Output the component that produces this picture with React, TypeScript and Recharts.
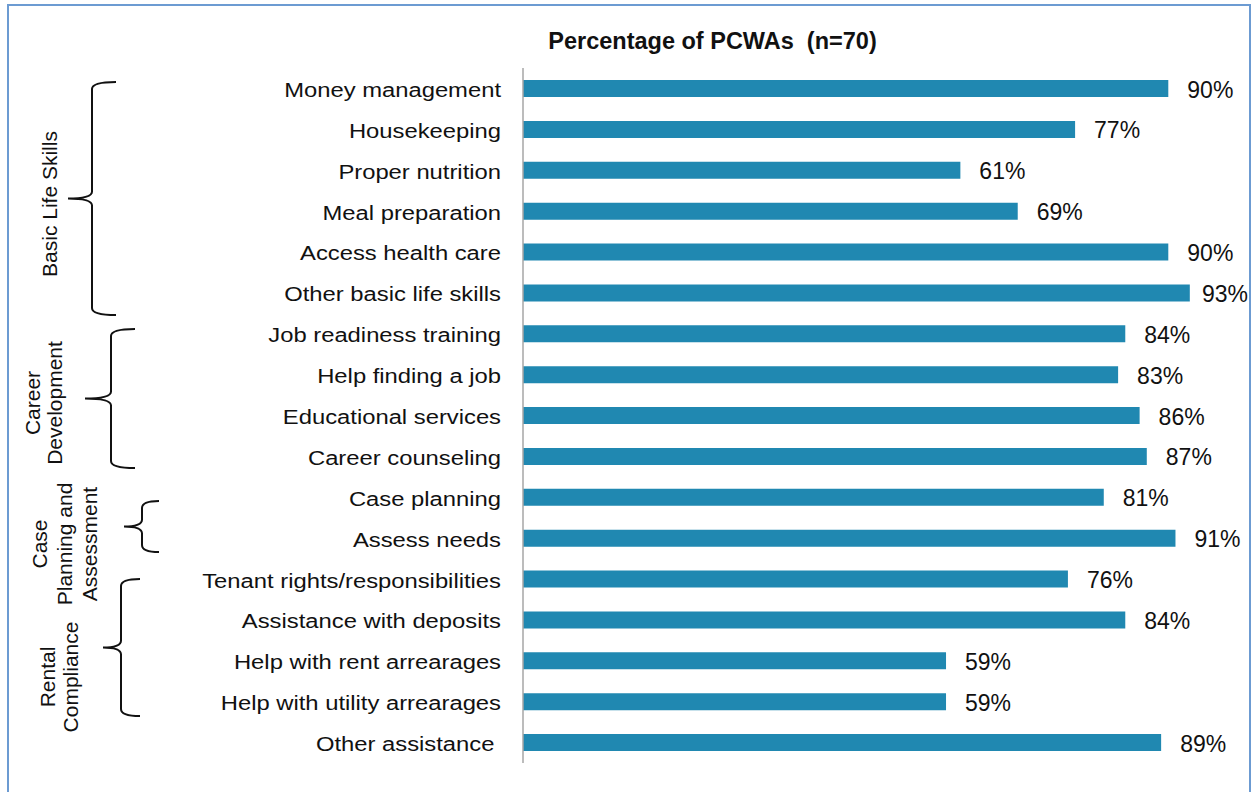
import { BarChart, Bar, XAxis, YAxis, LabelList } from 'recharts';

const categories = [
    'Money management',
    'Housekeeping',
    'Proper nutrition',
    'Meal preparation',
    'Access health care',
    'Other basic life skills',
    'Job readiness training',
    'Help finding a job',
    'Educational services',
    'Career counseling',
    'Case planning',
    'Assess needs',
    'Tenant rights/responsibilities',
    'Assistance with deposits',
    'Help with rent arrearages',
    'Help with utility arrearages',
    'Other assistance ',
];

const percentages = [90, 77, 61, 69, 90, 93, 84, 83, 86, 87, 81, 91, 76, 84, 59, 59, 89];

const groupNames = [
    ['Basic Life Skills'],
    ['Career', 'Development'],
    ['Case', 'Planning and', 'Assessment'],
    ['Rental', 'Compliance'],
];

const data = categories.map((name, i) => ({ name, value: percentages[i] }));

// brace + rotated group label placement (px)
const braces = [
    { top: 82, bottom: 315, spine: 92, arm: 116, tip: 68, cy: 204, lines: [56.5] },
    { top: 329, bottom: 468, spine: 111, arm: 135, tip: 85, cy: 403, lines: [39.5, 62] },
    { top: 501, bottom: 552, spine: 142, arm: 159, tip: 124, cy: 544, lines: [46.5, 71.5, 96.5] },
    { top: 579, bottom: 716, spine: 121, arm: 140, tip: 103, cy: 677, lines: [55, 78] },
];

const FONT = '"Liberation Sans", Arial, sans-serif';
const BAR = '#2088b1';
const LABEL_MAX_X = 1202; // labels that would run past the frame get pulled in

function bracePath(b: { top: number; bottom: number; spine: number; arm: number; tip: number }) {
    const mid = (b.top + b.bottom) / 2;
    const r = 7;
    return [
        `M ${b.arm} ${b.top}`,
        `Q ${b.spine} ${b.top} ${b.spine} ${b.top + r}`,
        `L ${b.spine} ${mid - r}`,
        `Q ${b.spine} ${mid} ${b.tip} ${mid}`,
        `Q ${b.spine} ${mid} ${b.spine} ${mid + r}`,
        `L ${b.spine} ${b.bottom - r}`,
        `Q ${b.spine} ${b.bottom} ${b.arm} ${b.bottom}`,
    ].join(' ');
}

function CategoryTick(props: any) {
    const { x, y, payload } = props;
    return (
        <g transform={`translate(${x},${y}) scale(1.19,1)`}>
            <text
                x={0}
                y={8.5}
                textAnchor="end"
                fontSize={20}
                fontFamily={FONT}
                fill="#111"
                style={{ whiteSpace: 'pre' }}
            >
                {payload.value}
            </text>
        </g>
    );
}

function ValueLabel(props: any) {
    const { x, y, width, height, value } = props;
    return (
        <text
            x={Math.min(x + width + 19, LABEL_MAX_X)}
            y={y + height / 2 + 9}
            fontSize={23}
            fontFamily={FONT}
            fill="#111"
        >
            {value}%
        </text>
    );
}

export default function App() {
    return (
        <div
            style={{
                position: 'absolute',
                left: 0,
                top: 0,
                width: 1257,
                height: 792,
                background: '#fff',
                overflow: 'hidden',
            }}
        >
            <div
                style={{
                    position: 'absolute',
                    left: 7,
                    top: 4,
                    width: 1244,
                    height: 800,
                    border: '2px solid #6c9bd2',
                    boxSizing: 'border-box',
                }}
            />

            <div style={{ position: 'absolute', left: 0, top: 0 }}>
                <BarChart
                    width={1257}
                    height={792}
                    data={data}
                    layout="vertical"
                    margin={{ top: 68, right: 17, bottom: 29, left: 0 }}
                >
                    <XAxis type="number" domain={[0, 100]} hide />
                    <YAxis
                        type="category"
                        dataKey="name"
                        width={523}
                        tick={<CategoryTick />}
                        tickLine={false}
                        tickSize={0}
                        tickMargin={22}
                        interval={0}
                        axisLine={{ stroke: '#a6a6a6', strokeWidth: 1.5 }}
                    />
                    <Bar dataKey="value" fill={BAR} barSize={17} isAnimationActive={false}>
                        <LabelList dataKey="value" content={<ValueLabel />} />
                    </Bar>
                </BarChart>
            </div>

            <svg
                width={1257}
                height={792}
                style={{ position: 'absolute', left: 0, top: 0, pointerEvents: 'none' }}
            >
                <text
                    x={712.5}
                    y={48.5}
                    textAnchor="middle"
                    fontSize={23.5}
                    fontWeight="bold"
                    fontFamily={FONT}
                    fill="#111"
                    style={{ whiteSpace: 'pre' }}
                >
                    Percentage of PCWAs  (n=70)
                </text>

                {braces.map((b, i) => (
                    <g key={i}>
                        <path d={bracePath(b)} fill="none" stroke="#111" strokeWidth={2} />
                        {groupNames[i].map((line, j) => (
                            <text
                                key={j}
                                transform={`translate(${b.lines[j]},${b.cy}) rotate(-90)`}
                                textAnchor="middle"
                                fontSize={21}
                                fontFamily={FONT}
                                fill="#111"
                            >
                                {line}
                            </text>
                        ))}
                    </g>
                ))}
            </svg>
        </div>
    );
}
